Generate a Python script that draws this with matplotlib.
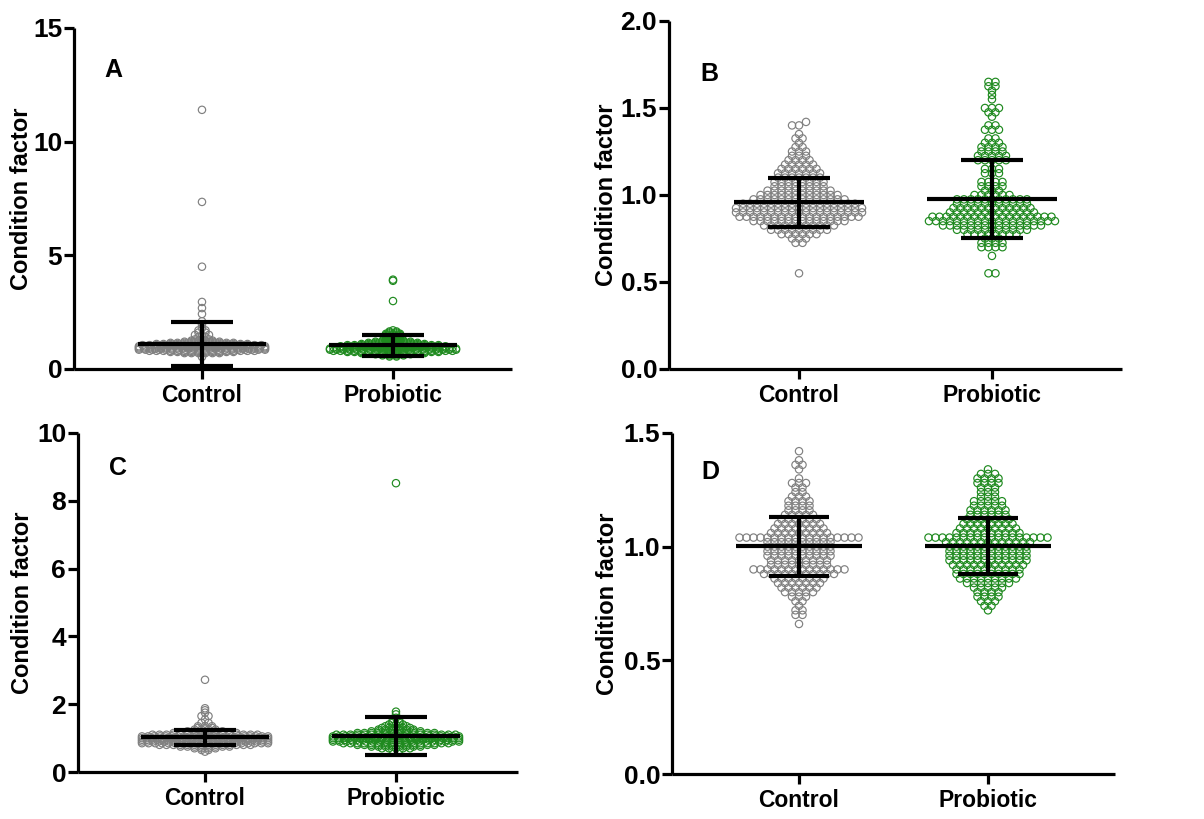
import numpy as np
import matplotlib
matplotlib.use("Agg")
import matplotlib.pyplot as plt

# ---------------- data (with multiplicities) -------------
categories = ["Control", "Probiotic"]

a_ctrl_vals = [0.53, 0.70, 0.75, 0.80, 0.85, 0.90, 0.95, 1.00, 1.05, 1.10, 1.15, 1.20, 1.25, 1.30,
               1.40, 1.50, 1.60, 1.70, 1.80, 1.95, 2.10, 2.42, 2.68, 2.95, 4.50, 7.35, 11.40]
a_ctrl_counts = [1, 6, 10, 16, 20, 24, 24, 22, 18, 14, 10, 6, 4, 3,
                 2, 3, 2, 2, 1, 1, 1, 1, 1, 1, 1, 1, 1]
a_prob_vals = [0.55, 0.60, 0.65, 0.70, 0.75, 0.80, 0.85, 0.90, 0.95, 1.00, 1.05, 1.10, 1.15, 1.20,
               1.25, 1.30, 1.35, 1.40, 1.45, 1.50, 1.55, 1.60, 1.65, 1.70, 2.99, 3.88, 3.93]
a_prob_counts = [2, 4, 6, 10, 14, 18, 20, 20, 18, 16, 14, 10, 8, 6,
                 4, 3, 3, 3, 3, 3, 3, 2, 2, 1, 1, 1, 1]

b_ctrl_vals = [0.55, 0.725, 0.75, 0.775, 0.80, 0.825, 0.85, 0.875, 0.90, 0.925, 0.95, 0.975,
               1.00, 1.025, 1.05, 1.075, 1.10, 1.125, 1.15, 1.175, 1.20, 1.225, 1.25, 1.275,
               1.30, 1.325, 1.35, 1.40, 1.42]
b_ctrl_counts = [1, 2, 3, 6, 9, 11, 14, 18, 19, 19, 17, 14,
                 12, 10, 8, 8, 7, 7, 6, 5, 4, 3, 3, 2,
                 1, 2, 1, 2, 1]
b_prob_vals = [0.55, 0.65, 0.70, 0.725, 0.75, 0.775, 0.80, 0.825, 0.85, 0.875, 0.90, 0.925,
               0.95, 0.975, 1.00, 1.025, 1.05, 1.075, 1.125, 1.15, 1.20, 1.225, 1.25, 1.275,
               1.30, 1.325, 1.375, 1.40, 1.45, 1.475, 1.50, 1.55, 1.575, 1.60, 1.625, 1.65]
b_prob_counts = [2, 1, 4, 4, 3, 8, 11, 15, 19, 18, 13, 12,
                 11, 11, 6, 3, 4, 4, 3, 3, 5, 5, 4, 4,
                 3, 2, 3, 2, 1, 2, 3, 1, 1, 1, 2, 2]

c_ctrl_vals = [0.60, 0.65, 0.70, 0.75, 0.80, 0.85, 0.90, 0.95, 1.00, 1.05, 1.10, 1.15, 1.20, 1.25,
               1.30, 1.35, 1.45, 1.55, 1.65, 1.75, 1.82, 1.88, 2.72]
c_ctrl_counts = [1, 2, 4, 8, 14, 20, 24, 26, 26, 22, 16, 10, 6, 4,
                 3, 3, 2, 1, 2, 1, 1, 1, 1]
c_prob_vals = [0.65, 0.70, 0.75, 0.80, 0.85, 0.90, 0.95, 1.00, 1.05, 1.10, 1.15, 1.20, 1.25, 1.30,
               1.35, 1.40, 1.45, 1.50, 1.60, 1.70, 1.78, 8.52]
c_prob_counts = [2, 5, 8, 12, 16, 20, 22, 24, 22, 18, 12, 8, 6, 5,
                 4, 3, 2, 2, 1, 1, 1, 1]

d_ctrl_vals = [0.66, 0.70, 0.72, 0.74, 0.76, 0.78, 0.80, 0.82, 0.84, 0.86, 0.88, 0.90, 0.92, 0.94,
               0.96, 0.98, 1.00, 1.02, 1.04, 1.06, 1.08, 1.10, 1.12, 1.14, 1.16, 1.18, 1.20, 1.22,
               1.24, 1.26, 1.28, 1.30, 1.34, 1.36, 1.38, 1.42]
d_ctrl_counts = [1, 2, 2, 1, 2, 3, 5, 6, 7, 8, 11, 14, 9, 9,
                 10, 10, 10, 10, 18, 9, 8, 7, 6, 5, 4, 4, 4, 3,
                 2, 2, 3, 1, 1, 2, 1, 1]
d_prob_vals = [0.72, 0.74, 0.76, 0.78, 0.80, 0.82, 0.84, 0.86, 0.88, 0.90, 0.92, 0.94, 0.96, 0.98,
               1.00, 1.02, 1.04, 1.06, 1.08, 1.10, 1.12, 1.14, 1.16, 1.18, 1.20, 1.22, 1.24, 1.26,
               1.28, 1.30, 1.32, 1.34]
d_prob_counts = [1, 2, 3, 4, 4, 5, 7, 9, 10, 10, 11, 12, 12, 12,
                 12, 13, 18, 10, 9, 8, 7, 6, 6, 5, 5, 3, 3, 3,
                 4, 4, 3, 1]

# mean and SD bars
a_means = [1.11, 1.035]; a_sds = [0.96, 0.465]
b_means = [0.958, 0.977]; b_sds = [0.142, 0.224]
c_means = [1.02, 1.05]; c_sds = [0.21, 0.56]
d_means = [1.001, 1.003]; d_sds = [0.129, 0.122]

y_limits = [(0, 15), (0, 2.0), (0, 10), (0, 1.5)]
y_ticks = [[0, 5, 10, 15], [0.0, 0.5, 1.0, 1.5, 2.0], [0, 2, 4, 6, 8, 10], [0.0, 0.5, 1.0, 1.5]]
y_fmt = ["{:.0f}", "{:.1f}", "{:.0f}", "{:.1f}"]
panel_letters = ["A", "B", "C", "D"]

# ---------------- style ----------------
W, H = 1204, 819
fig = plt.figure(figsize=(W / 100, H / 100), dpi=100)
plt.rcParams["font.family"] = ["Liberation Sans", "DejaVu Sans"]

ctrl_color = "#808080"
prob_color = "#1f8a1f"

def px_box(left, right, top, bottom):
    return [left / W, (H - bottom) / H, (right - left) / W, (bottom - top) / H]

boxes = [px_box(74, 512, 28, 369), px_box(669, 1122, 21, 369),
         px_box(78, 518, 433, 772), px_box(672, 1115, 433, 774)]
x_limits = [(-0.670, 1.623), (-0.674, 1.674), (-0.665, 1.639), (-0.672, 1.672)]
ylabel_x = [-0.094, -0.112, -0.100, -0.120]
letter_pos = [(0.089, 0.877), (0.09, 0.848), (0.091, 0.897), (0.086, 0.886)]
row_bins = [0.05, 0.025, 0.05, 0.02]     # row height (data units) of the dot layout
SPACING_PX = 7.0                         # horizontal distance of dots in a row
HALF_WIDTH = 0.33                        # column half-width, category units

groups = [
    ((a_ctrl_vals, a_ctrl_counts), (a_prob_vals, a_prob_counts), a_means, a_sds),
    ((b_ctrl_vals, b_ctrl_counts), (b_prob_vals, b_prob_counts), b_means, b_sds),
    ((c_ctrl_vals, c_ctrl_counts), (c_prob_vals, c_prob_counts), c_means, c_sds),
    ((d_ctrl_vals, d_ctrl_counts), (d_prob_vals, d_prob_counts), d_means, d_sds),
]


def row_layout_x(ax, xc, vals, bin_w, spacing, half_w):
    """GraphPad-like scatter-dot layout: rows of dots centred on the column."""
    vals = np.asarray(vals, float)
    x0 = ax.transData.transform([[xc, 0]])[0, 0]
    cap = ax.transData.transform([[xc + half_w, 0]])[0, 0] - x0
    rows = np.floor(vals / bin_w + 1e-6).astype(int)
    offs = np.zeros(len(vals))
    for r in np.unique(rows):
        idx = np.where(rows == r)[0]
        idx = idx[np.argsort(vals[idx], kind="stable")]
        n = len(idx)
        s = spacing if (n - 1) * spacing <= 2 * cap else 2 * cap / (n - 1)
        slots = (np.arange(n) - (n - 1) / 2.0) * s
        slots = slots[np.argsort(np.abs(slots), kind="stable")]
        offs[idx] = slots
    pix_y = ax.transData.transform(np.column_stack([np.full(len(vals), xc), vals]))[:, 1]
    xs = ax.transData.inverted().transform(np.column_stack([x0 + offs, pix_y]))[:, 0]
    return xs


for idx, (ctrl, prob, means, sds) in enumerate(groups):
    ax = fig.add_axes(boxes[idx])
    ax.set_xlim(*x_limits[idx])
    ax.set_ylim(*y_limits[idx])
    for s in ["top", "right"]:
        ax.spines[s].set_visible(False)
    for s in ["left", "bottom"]:
        ax.spines[s].set_linewidth(2.3)
        ax.spines[s].set_capstyle("butt")

    for gi, ((vals, counts), col) in enumerate(zip([ctrl, prob], [ctrl_color, prob_color])):
        v = np.repeat(np.array(vals, float), counts)
        xs = row_layout_x(ax, gi, v, row_bins[idx], SPACING_PX, HALF_WIDTH)
        ax.scatter(xs, v, s=28, facecolors="none", edgecolors=col, linewidths=0.85,
                   zorder=2, clip_on=False)

    xpos = np.arange(len(categories))
    m = np.array(means); sd = np.array(sds)
    ax.hlines(m, xpos - 0.335, xpos + 0.335, colors="black", linewidth=3.0, zorder=3)
    ax.hlines(m + sd, xpos - 0.16, xpos + 0.16, colors="black", linewidth=3.0, zorder=3)
    ax.hlines(m - sd, xpos - 0.16, xpos + 0.16, colors="black", linewidth=3.0, zorder=3)
    ax.vlines(xpos, m - sd, m + sd, colors="black", linewidth=3.0, zorder=3)

    ax.set_xticks(xpos)
    ax.set_xticklabels(categories, fontsize=16.5, fontweight="bold")
    ax.set_yticks(y_ticks[idx])
    ax.set_yticklabels([y_fmt[idx].format(t) for t in y_ticks[idx]], fontsize=19,
                       fontweight="bold")
    ax.tick_params(axis="both", direction="out", length=7, width=2.3, color="black")
    ax.tick_params(axis="y", pad=1.5)
    ax.tick_params(axis="x", pad=4)
    ax.set_ylabel("Condition factor", fontsize=17, fontweight="bold")
    ax.yaxis.set_label_coords(ylabel_x[idx], 0.5)
    ax.text(letter_pos[idx][0], letter_pos[idx][1], panel_letters[idx], transform=ax.transAxes,
            fontsize=18, fontweight="bold", ha="center", va="center")

fig.savefig("out.png", dpi=100)
